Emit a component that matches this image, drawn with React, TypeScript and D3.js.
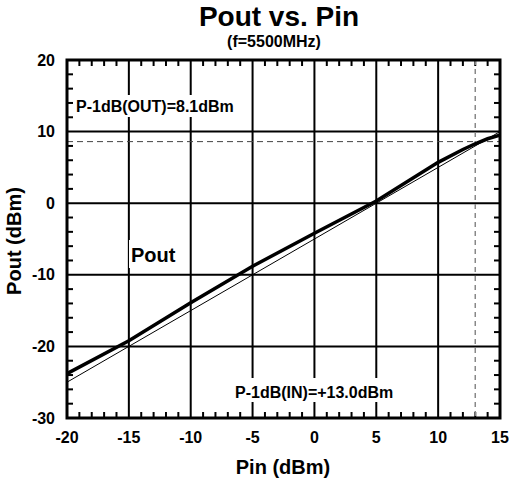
import React from "react";
import * as d3 from "d3";

const pinValues = [-20, -15, -10, -5, 0, 5, 10, 12, 13, 14, 15];
const poutValues = [-23.8, -19.2, -13.9, -8.8, -4.2, 0.3, 5.7, 7.5, 8.3, 9.0, 9.5];
const refPin = [-20, 15];
const refPout = [-25, 10];
const xTicks = [-20, -15, -10, -5, 0, 5, 10, 15];
const yTicks = [-30, -20, -10, 0, 10, 20];
const p1dbIn = 13;
const p1dbOutLine = 8.6;

const W = 509, H = 485;
const L = 67, R = 500, T = 60, B = 418;
const FONT = "'Liberation Sans', Arial, Helvetica, sans-serif";

export default function App() {
  const x = d3.scaleLinear().domain([-20, 15]).range([L, R]);
  const y = d3.scaleLinear().domain([-30, 20]).range([B, T]);
  const line = d3.line<[number, number]>().x(d => x(d[0])).y(d => y(d[1]));
  const pout: [number, number][] = pinValues.map((p, i) => [p, poutValues[i]]);
  const ref: [number, number][] = refPin.map((p, i) => [p, refPout[i]]);
  const xMinor = d3.range(-20, 15.01, 1).filter(v => !xTicks.includes(v));
  const yMinor = d3.range(-30, 20.01, 2).filter(v => !yTicks.includes(v));

  return (
    <svg width={W} height={H} style={{ position: "absolute", left: 0, top: 0 }} fontFamily={FONT}>
      <rect x={0} y={0} width={W} height={H} fill="#fff" />
      {/* grid */}
      {xTicks.slice(1, -1).map(v => (
        <line key={"gx" + v} x1={x(v)} x2={x(v)} y1={T} y2={B} stroke="#000" strokeWidth={2} />
      ))}
      {yTicks.slice(1, -1).map(v => (
        <line key={"gy" + v} x1={L} x2={R} y1={y(v)} y2={y(v)} stroke="#000" strokeWidth={2} />
      ))}
      {/* minor ticks */}
      {xMinor.map(v => (
        <g key={"mx" + v}>
          <line x1={x(v)} x2={x(v)} y1={T} y2={T + 6} stroke="#000" strokeWidth={2} />
          <line x1={x(v)} x2={x(v)} y1={B} y2={B - 6} stroke="#000" strokeWidth={2} />
        </g>
      ))}
      {yMinor.map(v => (
        <g key={"my" + v}>
          <line x1={L} x2={L + 6} y1={y(v)} y2={y(v)} stroke="#000" strokeWidth={2} />
          <line x1={R} x2={R - 6} y1={y(v)} y2={y(v)} stroke="#000" strokeWidth={2} />
        </g>
      ))}
      {/* dashed markers */}
      <line x1={x(p1dbIn)} x2={x(p1dbIn)} y1={T} y2={B} stroke="#888" strokeWidth={1.5} strokeDasharray="5,4" />
      <line x1={L} x2={R} y1={y(p1dbOutLine)} y2={y(p1dbOutLine)} stroke="#444" strokeWidth={1} strokeDasharray="6,4" />
      {/* data */}
      <path d={line(ref) || ""} fill="none" stroke="#000" strokeWidth={1} />
      <path d={line(pout) || ""} fill="none" stroke="#000" strokeWidth={3.5} />
      {/* annotations */}
      <rect x={74} y={95} width={168} height={22} fill="#fff" />
      <text x={76} y={111.5} fontSize={16} fontWeight="bold">P-1dB(OUT)=8.1dBm</text>
      <rect x={233} y={378} width={168} height={24} fill="#fff" />
      <text x={235} y={397.5} fontSize={16} fontWeight="bold">P-1dB(IN)=+13.0dBm</text>
      <rect x={129} y={240} width={50} height={28} fill="#fff" />
      <text x={131} y={261.5} fontSize={20} fontWeight="bold">Pout</text>
      {/* frame */}
      <rect x={L} y={T} width={R - L} height={B - T} fill="none" stroke="#000" strokeWidth={3} />
      {/* tick labels */}
      {xTicks.map(v => (
        <text key={"tx" + v} x={x(v)} y={443} fontSize={16} fontWeight="bold" textAnchor="middle">{v}</text>
      ))}
      {yTicks.map(v => (
        <text key={"ty" + v} x={55} y={y(v) + 5.5} fontSize={16} fontWeight="bold" textAnchor="end">{v}</text>
      ))}
      {/* titles */}
      <text x={279} y={26} fontSize={28} fontWeight="bold" textAnchor="middle">Pout vs. Pin</text>
      <text x={274} y={47} fontSize={16} fontWeight="bold" textAnchor="middle">(f=5500MHz)</text>
      <text x={283} y={474} fontSize={20} fontWeight="bold" textAnchor="middle">Pin (dBm)</text>
      <text transform="translate(21,241) rotate(-90)" fontSize={20} fontWeight="bold" textAnchor="middle">Pout (dBm)</text>
    </svg>
  );
}
